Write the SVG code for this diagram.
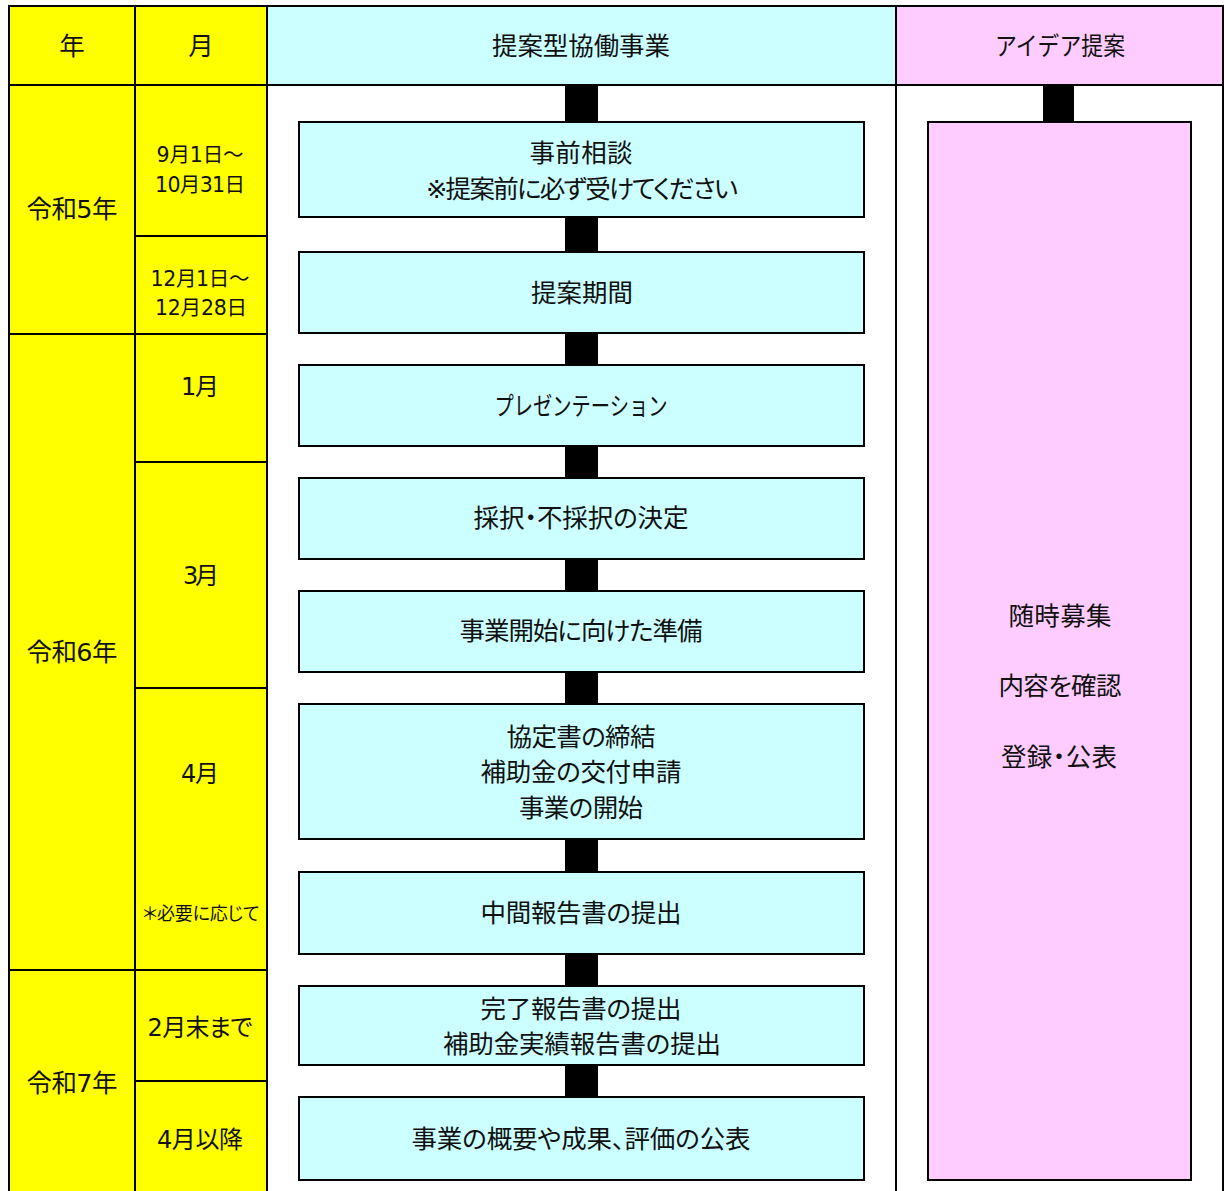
<svg xmlns="http://www.w3.org/2000/svg" width="1224" height="1191" viewBox="0 0 1224 1191">
<style>
text{font-family:"DejaVu Sans","Noto Sans CJK JP",sans-serif;font-size:25.5px;fill:#111;text-anchor:middle;font-feature-settings:"palt"}
.s{font-size:20.5px}.m{font-size:24px}.t{font-size:18px}
.n{font-feature-settings:normal}
.y{fill:#ff0;stroke:#000;stroke-width:2}
.c{fill:#cff;stroke:#000;stroke-width:2}
.p{fill:#fcf;stroke:#000;stroke-width:2}
.b{fill:#000}
</style>
<rect width="1224" height="1191" fill="#fff"/>
<g id="table">
<rect class="y" x="9" y="6" width="126" height="79"/>
<rect class="y" x="135" y="6" width="132" height="79"/>
<rect class="c" x="267" y="6" width="629" height="79"/>
<rect class="p" x="896" y="6" width="327" height="79"/>
<rect x="267" y="85" width="629" height="1110" fill="#fff" stroke="#000" stroke-width="2"/>
<rect x="896" y="85" width="327" height="1110" fill="#fff" stroke="#000" stroke-width="2"/>
<rect class="y" x="9" y="85" width="126" height="249"/>
<rect class="y" x="9" y="334" width="126" height="636"/>
<rect class="y" x="9" y="970" width="126" height="225"/>
<rect class="y" x="135" y="85" width="132" height="151"/>
<rect class="y" x="135" y="236" width="132" height="98"/>
<rect class="y" x="135" y="334" width="132" height="128"/>
<rect class="y" x="135" y="462" width="132" height="226"/>
<rect class="y" x="135" y="688" width="132" height="282"/>
<rect class="y" x="135" y="970" width="132" height="111"/>
<rect class="y" x="135" y="1081" width="132" height="114"/>
<text x="72" y="55">年</text><text x="201" y="55">月</text>
<text x="581" y="55" textLength="178">提案型協働事業</text><text class="n" x="1060" y="55" textLength="130" lengthAdjust="spacingAndGlyphs">アイデア提案</text>
<text x="72" y="218" textLength="91">令和5年</text><text x="72" y="661" textLength="91">令和6年</text><text x="72" y="1092" textLength="91">令和7年</text>
<text class="s" x="200" y="162" textLength="87">9月1日～</text><text class="s" x="200" y="192" textLength="90">10月31日</text>
<text class="s" x="200" y="286" textLength="99">12月1日～</text><text class="s" x="201" y="315" textLength="92">12月28日</text>
<text class="m" x="200" y="395" textLength="38">1月</text><text class="m" x="201" y="584" textLength="36">3月</text><text class="m" x="200" y="782" textLength="38">4月</text>
<text class="t" x="201" y="920" textLength="117">＊必要に応じて</text>
<text class="m" x="200" y="1036" textLength="105">2月末まで</text><text class="m" x="200" y="1148" textLength="86">4月以降</text>
</g>
<g id="connectors">
<rect class="b" x="565" y="85" width="33" height="37"/>
<rect class="b" x="565" y="217" width="33" height="35"/>
<rect class="b" x="565" y="333" width="33" height="32"/>
<rect class="b" x="565" y="446" width="33" height="32"/>
<rect class="b" x="565" y="559" width="33" height="32"/>
<rect class="b" x="565" y="672" width="33" height="32"/>
<rect class="b" x="565" y="839" width="33" height="33"/>
<rect class="b" x="565" y="954" width="33" height="32"/>
<rect class="b" x="565" y="1065" width="33" height="32"/>
<rect class="b" x="1043" y="85" width="31" height="37"/>
</g>
<g id="n1"><rect class="c" x="299" y="122" width="565" height="95"/><text x="581" y="162" textLength="103">事前相談</text><text x="582" y="198" textLength="312">※提案前に必ず受けてください</text></g>
<g id="n2"><rect class="c" x="299" y="252" width="565" height="81"/><text x="582" y="302" textLength="102">提案期間</text></g>
<g id="n3"><rect class="c" x="299" y="365" width="565" height="81"/><text class="n" x="581" y="415" textLength="173" lengthAdjust="spacingAndGlyphs">プレゼンテーション</text></g>
<g id="n4"><rect class="c" x="299" y="478" width="565" height="81"/><text x="581" y="527" textLength="215">採択・不採択の決定</text></g>
<g id="n5"><rect class="c" x="299" y="591" width="565" height="81"/><text x="581" y="640" textLength="243">事業開始に向けた準備</text></g>
<g id="n6"><rect class="c" x="299" y="704" width="565" height="135"/><text x="581" y="746" textLength="149">協定書の締結</text><text x="581" y="781" textLength="201">補助金の交付申請</text><text x="581" y="817" textLength="124">事業の開始</text></g>
<g id="n7"><rect class="c" x="299" y="872" width="565" height="82"/><text x="581" y="922" textLength="201">中間報告書の提出</text></g>
<g id="n8"><rect class="c" x="299" y="986" width="565" height="79"/><text x="581" y="1018" textLength="201">完了報告書の提出</text><text x="582" y="1053" textLength="278">補助金実績報告書の提出</text></g>
<g id="n9"><rect class="c" x="299" y="1097" width="565" height="83"/><text x="581" y="1148" textLength="339">事業の概要や成果、評価の公表</text></g>
<g id="n10"><rect class="p" x="928" y="122" width="263" height="1058"/><text x="1060" y="625" textLength="103">随時募集</text><text x="1060" y="695" textLength="123">内容を確認</text><text x="1059" y="766" textLength="116">登録・公表</text></g>
</svg>
